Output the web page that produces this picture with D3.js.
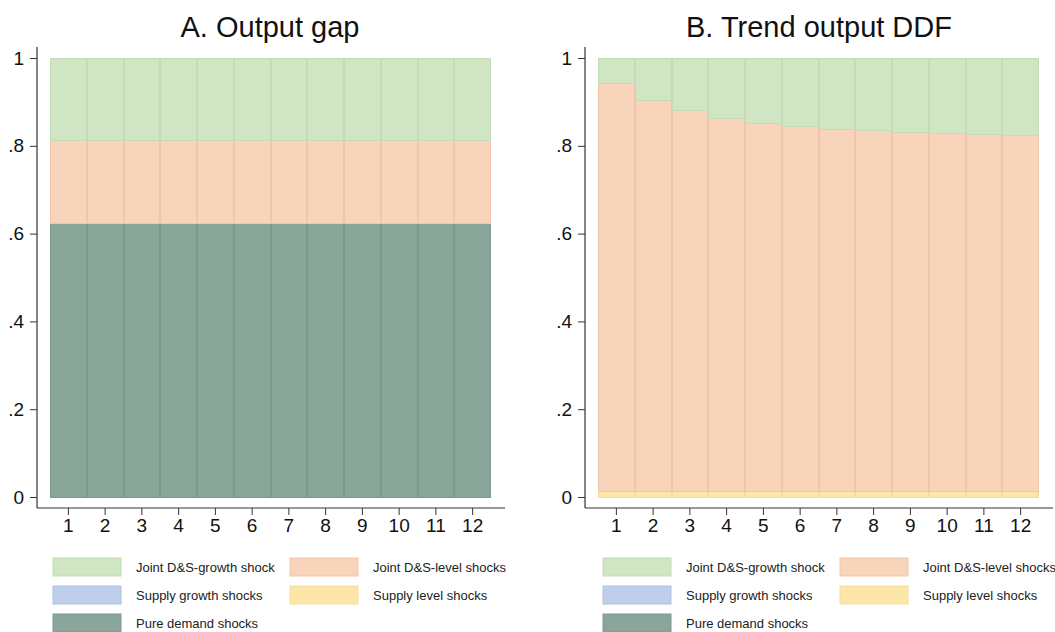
<!DOCTYPE html>
<html>
<head>
<meta charset="utf-8">
<script src="https://cdn.jsdelivr.net/npm/d3@7"></script>
<style>
  body { margin: 0; background: #fff; }
  svg { font-family: "Liberation Sans", Arial, sans-serif; }
</style>
</head>
<body>
<div id="chart"></div>
<script>
// horizons
const periods = [1, 2, 3, 4, 5, 6, 7, 8, 9, 10, 11, 12];

// A. Output gap - variance shares
const gapPureDemand   = [0.622, 0.622, 0.622, 0.622, 0.622, 0.622, 0.622, 0.622, 0.622, 0.622, 0.622, 0.622];
const gapSupplyGrowth = [0, 0, 0, 0, 0, 0, 0, 0, 0, 0, 0, 0];
const gapSupplyLevel  = [0, 0, 0, 0, 0, 0, 0, 0, 0, 0, 0, 0];
const gapJointLevel   = [0.190, 0.190, 0.190, 0.190, 0.190, 0.190, 0.190, 0.190, 0.190, 0.190, 0.190, 0.190];
const gapJointGrowth  = [0.188, 0.188, 0.188, 0.188, 0.188, 0.188, 0.188, 0.188, 0.188, 0.188, 0.188, 0.188];

// B. Trend output DDF - variance shares
const ddfPureDemand   = [0, 0, 0, 0, 0, 0, 0, 0, 0, 0, 0, 0];
const ddfSupplyGrowth = [0, 0, 0, 0, 0, 0, 0, 0, 0, 0, 0, 0];
const ddfSupplyLevel  = [0.012, 0.012, 0.012, 0.012, 0.012, 0.012, 0.012, 0.012, 0.012, 0.012, 0.012, 0.012];
const ddfJointLevel   = [0.929, 0.892, 0.868, 0.850, 0.839, 0.831, 0.825, 0.822, 0.818, 0.816, 0.813, 0.811];
const ddfJointGrowth  = [0.059, 0.096, 0.120, 0.138, 0.149, 0.157, 0.163, 0.166, 0.170, 0.172, 0.175, 0.177];

const yTicks = [0, 0.2, 0.4, 0.6, 0.8, 1];

// bottom -> top stacking order
const keys = ["pureDemand", "supplyGrowth", "supplyLevel", "jointLevel", "jointGrowth"];
const fills   = {jointGrowth: "#cfe5c3", jointLevel: "#f8d4bb", supplyGrowth: "#bfcfeb", supplyLevel: "#fde7a8", pureDemand: "#8aa69a"};
const strokes = {jointGrowth: "#c3dcb5", jointLevel: "#f0c6aa", supplyGrowth: "#afc1e2", supplyLevel: "#f5dc98", pureDemand: "#7c9a8c"};
const legendItems = [
  ["jointGrowth", "Joint D&S-growth shock"],
  ["jointLevel", "Joint D&S-level shocks"],
  ["supplyGrowth", "Supply growth shocks"],
  ["supplyLevel", "Supply level shocks"],
  ["pureDemand", "Pure demand shocks"]
];

const svg = d3.select("#chart").append("svg")
  .attr("width", 1055)
  .attr("height", 632);

function panel(opts) {
  const rows = periods.map((p, i) => ({
    period: p,
    pureDemand: opts.pureDemand[i],
    supplyGrowth: opts.supplyGrowth[i],
    supplyLevel: opts.supplyLevel[i],
    jointLevel: opts.jointLevel[i],
    jointGrowth: opts.jointGrowth[i]
  }));
  const series = d3.stack().keys(keys)(rows);

  const g = svg.append("g").attr("transform", "translate(" + opts.left + ",0)");

  const x = d3.scaleBand().domain(periods).range([13, 454]).padding(0);
  const y = d3.scaleLinear().domain([0, 1]).range([497, 58]);

  // title
  g.append("text")
    .attr("x", opts.titleX)
    .attr("y", 37)
    .attr("text-anchor", "middle")
    .attr("font-size", 29)
    .attr("fill", "#111")
    .text(opts.title);

  // bars
  g.append("g").selectAll("g")
    .data(series)
    .join("g")
    .attr("fill", d => fills[d.key])
    .attr("stroke", d => strokes[d.key])
    .attr("stroke-width", 1)
    .attr("shape-rendering", "crispEdges")
    .selectAll("rect")
    .data(d => d.filter(v => v[1] - v[0] > 0))
    .join("rect")
    .attr("x", d => Math.round(x(d.data.period)) + 0.5)
    .attr("width", d => Math.round(x(d.data.period) + x.bandwidth()) - Math.round(x(d.data.period)) - 1)
    .attr("y", d => y(d[1]))
    .attr("height", d => y(d[0]) - y(d[1]));

  // axes
  const yAxis = d3.axisLeft(y).tickValues(yTicks).tickSize(7).tickPadding(6)
    .tickFormat(d => d === 0 ? "0" : d === 1 ? "1" : d3.format(".1f")(d).replace(/^0/, ""));
  const gy = g.append("g").call(yAxis);
  gy.select(".domain").remove();
  gy.selectAll(".tick line").attr("stroke", "#333");
  gy.selectAll(".tick text").attr("font-size", 19).attr("fill", "#111").attr("font-family", "Liberation Sans, Arial, sans-serif");

  const xAxis = d3.axisBottom(x).tickSize(7).tickPadding(4).tickSizeOuter(0);
  const gx = g.append("g").attr("transform", "translate(0,508)").call(xAxis);
  gx.select(".domain").remove();
  gx.selectAll(".tick line").attr("stroke", "#333");
  gx.selectAll(".tick text").attr("font-size", 19).attr("fill", "#111").attr("font-family", "Liberation Sans, Arial, sans-serif");

  g.append("line").attr("x1", 0).attr("x2", 0).attr("y1", 47).attr("y2", 508).attr("stroke", "#333").attr("stroke-width", 1.2);
  g.append("line").attr("x1", 0).attr("x2", 468).attr("y1", 508).attr("y2", 508).attr("stroke", "#333").attr("stroke-width", 1.2);

  // legend
  const lg = g.append("g").attr("transform", "translate(" + opts.legendX + ",0)");
  const item = lg.selectAll("g")
    .data(legendItems)
    .join("g")
    .attr("transform", (d, i) => "translate(" + (i % 2 === 0 ? 0 : 237) + "," + (558 + Math.floor(i / 2) * 28) + ")");
  item.append("rect")
    .attr("width", 68).attr("height", 18)
    .attr("fill", d => fills[d[0]])
    .attr("stroke", d => strokes[d[0]]);
  item.append("text")
    .attr("x", 83)
    .attr("y", 13.5)
    .attr("font-size", 13)
    .attr("fill", "#222")
    .text(d => d[1]);
}

panel({
  left: 37, titleX: 233, legendX: 16, title: "A. Output gap",
  pureDemand: gapPureDemand, supplyGrowth: gapSupplyGrowth, supplyLevel: gapSupplyLevel,
  jointLevel: gapJointLevel, jointGrowth: gapJointGrowth
});
panel({
  left: 585, titleX: 234, legendX: 18, title: "B. Trend output DDF",
  pureDemand: ddfPureDemand, supplyGrowth: ddfSupplyGrowth, supplyLevel: ddfSupplyLevel,
  jointLevel: ddfJointLevel, jointGrowth: ddfJointGrowth
});
</script>
</body>
</html>
